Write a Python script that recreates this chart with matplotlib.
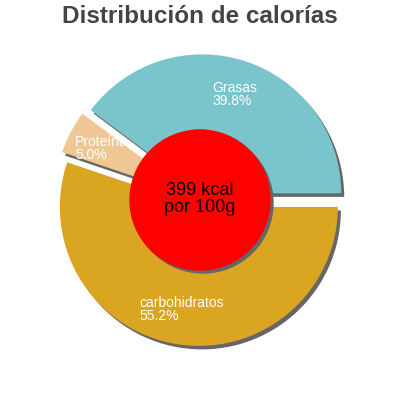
import matplotlib
matplotlib.use("Agg")
import matplotlib.pyplot as plt

plt.rcParams["font.family"] = ["Liberation Sans", "DejaVu Sans"]

categories = ["Grasas", "Proteína", "carbohidratos"]
percent = [39.8, 5.0, 55.2]
colors = ["#7AC4CC", "#EFC794", "#DAA520"]
kcal = 399
title = "Distribución de calorías"

CENTER = (200, 200)
RADIUS = 139
EXPLODE = 7
SHADOW = (3, -3.5)
HOLE = 70

fig = plt.figure(figsize=(4, 4), dpi=100)
ax = fig.add_axes([0, 0, 1, 1])

# shadow pass, same geometry shifted
ax.pie(percent, explode=[EXPLODE] * 3, radius=RADIUS,
       center=(CENTER[0] + SHADOW[0], CENTER[1] + SHADOW[1]),
       colors=["#666666"] * 3, frame=True)

labels = [f"{c}\n{p:.1f}%" for c, p in zip(categories, percent)]
wedges, texts = ax.pie(percent, explode=[EXPLODE] * 3, radius=RADIUS,
                       center=CENTER, colors=colors, labels=labels,
                       labeldistance=0.75, frame=True,
                       textprops=dict(color="white", fontsize=10))
for t in texts:
    t.set_ha("center")
    t.set_va("center")
    t.set_multialignment("left")
    t.set_linespacing(0.9)

ax.set_xlim(0, 400)
ax.set_ylim(0, 400)
ax.set_aspect("equal")
ax.axis("off")

ax.add_patch(plt.Circle((CENTER[0] + 3, CENTER[1] - 3), HOLE, color="#666666", zorder=3))
ax.add_patch(plt.Circle(CENTER, HOLE, color="#FF0000", zorder=4))
ax.text(CENTER[0], CENTER[1] + 1, f"{kcal} kcal\npor 100g", ha="center", va="center",
        fontsize=13, color="black", linespacing=0.95, zorder=5)

fig.text(0.5, 1 - 16.5 / 400, title, ha="center", va="center",
         fontsize=17.5, fontweight="bold", color="#444444")

fig.savefig("out.png", dpi=100)
